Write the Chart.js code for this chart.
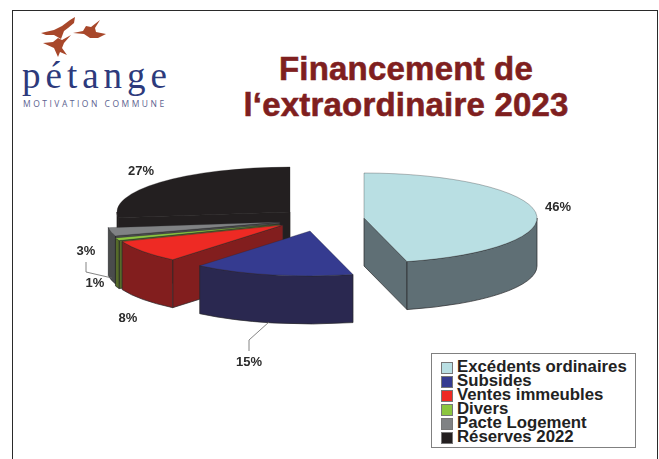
<!DOCTYPE html>
<html lang="fr">
<head>
  <meta charset="UTF-8" />
  <title>Financement de l'extraordinaire 2023</title>
  <script src="https://cdn.jsdelivr.net/npm/chart.js"></script>
  <style>
    html, body { margin: 0; padding: 0; background: #fff; }
    body { width: 659px; height: 459px; overflow: hidden; position: relative; font-family: 'Liberation Sans', Arial, sans-serif; }
    #graph { position: absolute; left: 0; top: 0; }
    .frame { position: absolute; left: 12px; top: 10px; width: 644px; height: 470px; border: 1.5px solid #2a2a2a; }
    .birds { position: absolute; left: 0; top: 0; }
    .logo-name { position: absolute; left: 22px; top: 54px; font: 37px 'Liberation Serif', serif; letter-spacing: 5px; color: #2d3a7c; line-height: 44px; }
    .logo-sub { position: absolute; left: 23px; top: 98px; font: 8.5px 'Open Sans', sans-serif; letter-spacing: 2.5px; color: #5c628f; line-height: 11px; white-space: nowrap; }
    .title { position: absolute; left: 206px; width: 400px; top: 51px; text-align: center; font-weight: bold; font-size: 33px; line-height: 36px; letter-spacing: 0.2px; color: #7f1f1f; -webkit-text-stroke: 0.6px #7f1f1f; }
    .legend { position: absolute; left: 431px; top: 353px; width: 203px; height: 93px; border: 1.5px solid #808080; background: #fff; }
    .legend div { position: absolute; left: 25px; font-weight: bold; font-size: 16.8px; line-height: 14px; color: #222; white-space: nowrap; }
    .legend i { position: absolute; left: -16px; top: 2px; width: 10px; height: 10px; border: 1px solid #777; }
  </style>
</head>
<body>
  <div class="frame"></div>

  <svg class="birds" width="120" height="60">
    <g fill="#a8472a">
      <path d="M41 33 L54 30 L62 26 L70 20 L75 17 L74 23 L68 28 L64 31 L61 39 L54 35 L46 35 Z" />
      <path d="M73 33 L83 31 L86 26 L91 27 L100 20 L95 28 L96 32 L106 34 L98 38 L90 38 L84 34 Z" />
      <path d="M43 43 L53 42 L58 38 L62 40 L71 35 L64 43 L62 48 L67 55 L60 52 L58 57 L54 48 Z" />
    </g>
  </svg>
  <div class="logo-name">pétange</div>
  <div class="logo-sub">MOTIVATION COMMUNE</div>

  <div class="title">Financement de<br>l‘extraordinaire 2023</div>

  <canvas id="graph" width="659" height="459"></canvas>
  <div class="legend" id="legende"></div>

  <script>
    const categories = ['Excédents ordinaires', 'Subsides', 'Ventes immeubles', 'Divers', 'Pacte Logement', 'Réserves 2022'];
    const values = [46, 15, 8, 1, 3, 27];

    const topColors = ['#b9dfe3', '#353b90', '#ee2a24', '#8cc63f', '#808284', '#231f20'];
    const sideColors = ['#5f6f75', '#2a2850', '#821e1e', '#566b2a', '#4a4c4c', '#231f20'];
    const edgeColors = ['#26262a', '#26262a', '#26262a', '#26262a', '#26262a', '#231f20'];

    // ou se trouve le sommet de chaque part une fois eclatee
    const apexes = [[364, 218], [310, 231], [283, 225], [280, 224], [280, 222], [290, 212]];
    const labelSpots = [[558, 207], [249, 362], [128, 318], [95, 283], [86, 251], [141, 171]];
    const leaders = [
      [[269, 322], [249, 340], [249, 351]],
      [[86, 262], [86, 272], [112, 278]]
    ];

    const radius = 173;
    const tilt = 45 / 173;
    const depth = 48;

    const pie3d = {
      id: 'pie3d',
      beforeDatasetsDraw(chart) {
        const ctx = chart.ctx;
        const arcs = chart.getDatasetMeta(0).data;
        // ordre de peinture : du fond vers l'avant
        [5, 4, 3, 2, 1, 0].forEach(i => {
          const arc = arcs[i];
          const [cx, cy] = apexes[i];
          const rx = arc.outerRadius;
          const ry = rx * tilt;
          ctx.save();
          ctx.fillStyle = sideColors[i];
          ctx.strokeStyle = edgeColors[i];
          ctx.lineWidth = 0.7;

          // flancs droits
          [[arc.startAngle, Math.cos(arc.startAngle) < 0], [arc.endAngle, Math.cos(arc.endAngle) > 0]].forEach(([a, visible]) => {
            if (!visible) return;
            const px = cx + rx * Math.cos(a);
            const py = cy + ry * Math.sin(a);
            ctx.beginPath();
            ctx.moveTo(cx, cy);
            ctx.lineTo(px, py);
            ctx.lineTo(px, py + depth);
            ctx.lineTo(cx, cy + depth);
            ctx.closePath();
            ctx.fill();
            ctx.stroke();
          });

          // flanc courbe, seulement la moitie avant
          const a0 = Math.max(arc.startAngle, 0);
          const a1 = Math.min(arc.endAngle, Math.PI);
          if (a1 > a0) {
            ctx.beginPath();
            ctx.ellipse(cx, cy, rx, ry, 0, a0, a1);
            ctx.ellipse(cx, cy + depth, rx, ry, 0, a1, a0, true);
            ctx.closePath();
            ctx.fill();
            ctx.stroke();
          }

          // dessus de la part : l'arc de Chart.js aplati
          ctx.translate(cx, cy);
          ctx.scale(1, tilt);
          ctx.translate(-arc.x, -arc.y);
          arc.draw(ctx, chart.chartArea);
          ctx.restore();
        });
        return false;
      },
      // beforeDatasetsDraw annule la suite, donc les etiquettes passent ici
      afterDraw(chart) {
        const ctx = chart.ctx;
        ctx.save();
        ctx.strokeStyle = '#666';
        ctx.lineWidth = 0.8;
        leaders.forEach(pts => {
          ctx.beginPath();
          pts.forEach(([x, y], j) => j ? ctx.lineTo(x, y) : ctx.moveTo(x, y));
          ctx.stroke();
        });
        ctx.fillStyle = '#2b2b2b';
        ctx.font = "bold 13px 'Liberation Sans', Arial, sans-serif";
        ctx.textAlign = 'center';
        ctx.textBaseline = 'middle';
        values.forEach((v, i) => ctx.fillText(v + '%', labelSpots[i][0], labelSpots[i][1]));
        ctx.restore();
      }
    };

    const chart = new Chart(document.getElementById('graph'), {
      type: 'pie',
      data: {
        labels: categories,
        datasets: [{ data: values, backgroundColor: topColors, borderColor: edgeColors, borderWidth: 0.5 }]
      },
      options: {
        responsive: false,
        animation: false,
        radius: radius,
        plugins: { legend: { display: false }, tooltip: { enabled: false } }
      },
      plugins: [pie3d]
    });

    const legende = document.getElementById('legende');
    categories.forEach((nom, i) => {
      const ligne = document.createElement('div');
      ligne.style.top = (6 + i * 14) + 'px';
      ligne.innerHTML = '<i style="background:' + topColors[i] + '"></i>' + nom;
      legende.appendChild(ligne);
    });
  </script>
</body>
</html>
